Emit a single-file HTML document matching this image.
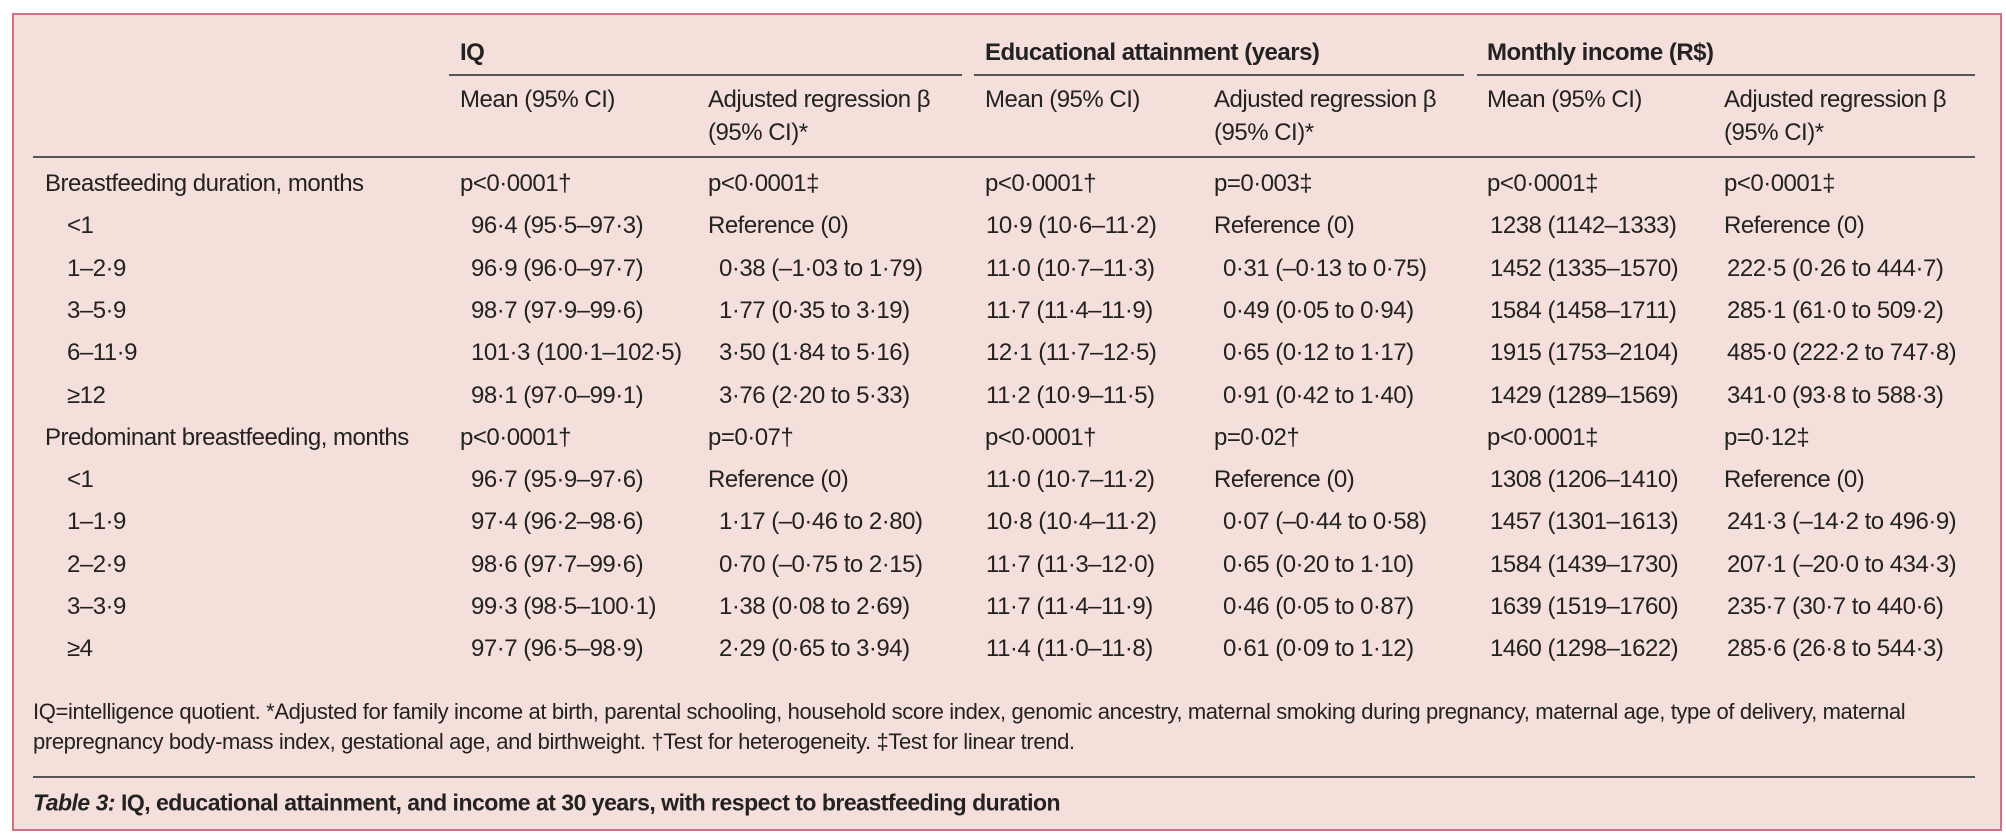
<!DOCTYPE html>
<html><head><meta charset="utf-8">
<style>
html,body{margin:0;padding:0;background:#fff;}
#root{position:relative;width:2006px;height:837px;overflow:hidden;background:#fff;}
#panel{position:absolute;left:12px;top:13px;width:1990px;height:818px;background:#f5dfdb;border:2px solid #d26f82;box-sizing:border-box;}
.t{position:absolute;white-space:nowrap;font-family:"Liberation Sans",sans-serif;font-size:24px;letter-spacing:-0.5px;color:#222;line-height:1;transform:translateY(-50%);}
.f{font-size:22px;letter-spacing:-0.37px;}
.b{font-weight:bold;}
.c{font-size:23px;letter-spacing:-0.5px;}
.ln{position:absolute;height:2px;background:#555;}
</style></head>
<body>
<div id="root">
<div id="panel"></div>
<div class="t b" style="left:460px;top:53px">IQ</div>
<div class="t b" style="left:985px;top:53px">Educational attainment (years)</div>
<div class="t b" style="left:1487px;top:53px">Monthly income (R$)</div>
<div class="ln" style="left:449px;top:74px;width:513px"></div>
<div class="ln" style="left:974px;top:74px;width:490px"></div>
<div class="ln" style="left:1477px;top:74px;width:498px"></div>
<div class="t" style="left:460px;top:100px">Mean (95% CI)</div>
<div class="t" style="left:708px;top:100px">Adjusted regression β</div>
<div class="t" style="left:708px;top:133px">(95% CI)*</div>
<div class="t" style="left:985px;top:100px">Mean (95% CI)</div>
<div class="t" style="left:1214px;top:100px">Adjusted regression β</div>
<div class="t" style="left:1214px;top:133px">(95% CI)*</div>
<div class="t" style="left:1487px;top:100px">Mean (95% CI)</div>
<div class="t" style="left:1724px;top:100px">Adjusted regression β</div>
<div class="t" style="left:1724px;top:133px">(95% CI)*</div>
<div class="ln" style="left:33px;top:156px;width:1942px"></div>
<div id="rows"></div>
<div class="t f" style="left:33px;top:712px">IQ=intelligence quotient. *Adjusted for family income at birth, parental schooling, household score index, genomic ancestry, maternal smoking during pregnancy, maternal age, type of delivery, maternal</div>
<div class="t f" style="left:33px;top:742px">prepregnancy body-mass index, gestational age, and birthweight. †Test for heterogeneity. ‡Test for linear trend.</div>
<div class="ln" style="left:33px;top:776px;width:1942px"></div>
<div class="t b c" style="left:33px;top:803px"><i>Table 3:</i> IQ, educational attainment, and income at 30 years, with respect to breastfeeding duration</div>
</div>
<script>
const rowLabels=["Breastfeeding duration, months","<1","1–2·9","3–5·9","6–11·9","≥12","Predominant breastfeeding, months","<1","1–1·9","2–2·9","3–3·9","≥4"];
const iqMean=["p<0·0001†","96·4 (95·5–97·3)","96·9 (96·0–97·7)","98·7 (97·9–99·6)","101·3 (100·1–102·5)","98·1 (97·0–99·1)","p<0·0001†","96·7 (95·9–97·6)","97·4 (96·2–98·6)","98·6 (97·7–99·6)","99·3 (98·5–100·1)","97·7 (96·5–98·9)"];
const iqBeta=["p<0·0001‡","Reference (0)","0·38 (–1·03 to 1·79)","1·77 (0·35 to 3·19)","3·50 (1·84 to 5·16)","3·76 (2·20 to 5·33)","p=0·07†","Reference (0)","1·17 (–0·46 to 2·80)","0·70 (–0·75 to 2·15)","1·38 (0·08 to 2·69)","2·29 (0·65 to 3·94)"];
const eduMean=["p<0·0001†","10·9 (10·6–11·2)","11·0 (10·7–11·3)","11·7 (11·4–11·9)","12·1 (11·7–12·5)","11·2 (10·9–11·5)","p<0·0001†","11·0 (10·7–11·2)","10·8 (10·4–11·2)","11·7 (11·3–12·0)","11·7 (11·4–11·9)","11·4 (11·0–11·8)"];
const eduBeta=["p=0·003‡","Reference (0)","0·31 (–0·13 to 0·75)","0·49 (0·05 to 0·94)","0·65 (0·12 to 1·17)","0·91 (0·42 to 1·40)","p=0·02†","Reference (0)","0·07 (–0·44 to 0·58)","0·65 (0·20 to 1·10)","0·46 (0·05 to 0·87)","0·61 (0·09 to 1·12)"];
const incMean=["p<0·0001‡","1238 (1142–1333)","1452 (1335–1570)","1584 (1458–1711)","1915 (1753–2104)","1429 (1289–1569)","p<0·0001‡","1308 (1206–1410)","1457 (1301–1613)","1584 (1439–1730)","1639 (1519–1760)","1460 (1298–1622)"];
const incBeta=["p<0·0001‡","Reference (0)","222·5 (0·26 to 444·7)","285·1 (61·0 to 509·2)","485·0 (222·2 to 747·8)","341·0 (93·8 to 588·3)","p=0·12‡","Reference (0)","241·3 (–14·2 to 496·9)","207·1 (–20·0 to 434·3)","235·7 (30·7 to 440·6)","285·6 (26·8 to 544·3)"];
const colNames=["iq-mean","iq-beta","edu-mean","edu-beta","income-mean","income-beta"];
const cols=[iqMean,iqBeta,eduMean,eduBeta,incMean,incBeta];
const colX=[460,708,985,1214,1487,1724];
const rowsEl=document.getElementById('rows');
const isHead=i=>i===0||i===6;
function rowY(i){return 184+i*42.3;}
rowLabels.forEach((lab,i)=>{
  const d=document.createElement('div');
  d.className='t';
  d.textContent=lab;
  d.style.left=(isHead(i)?45:67)+'px';
  d.style.top=rowY(i)+'px';
  
  
  rowsEl.appendChild(d);
  cols.forEach((c,j)=>{
    const e=document.createElement('div');
    e.className='t';
    const v=c[i];
    e.textContent=v;
    const indent=(!isHead(i)&&!/^Reference/.test(v))?(j===1?11:(j===3?9:(j===5?3:(j===0?11:(j===4?3:1))))):0;
    e.style.left=(colX[j]+indent)+'px';
    e.style.top=rowY(i)+'px';
    
    
    rowsEl.appendChild(e);
  });
});
</script>
</body></html>
